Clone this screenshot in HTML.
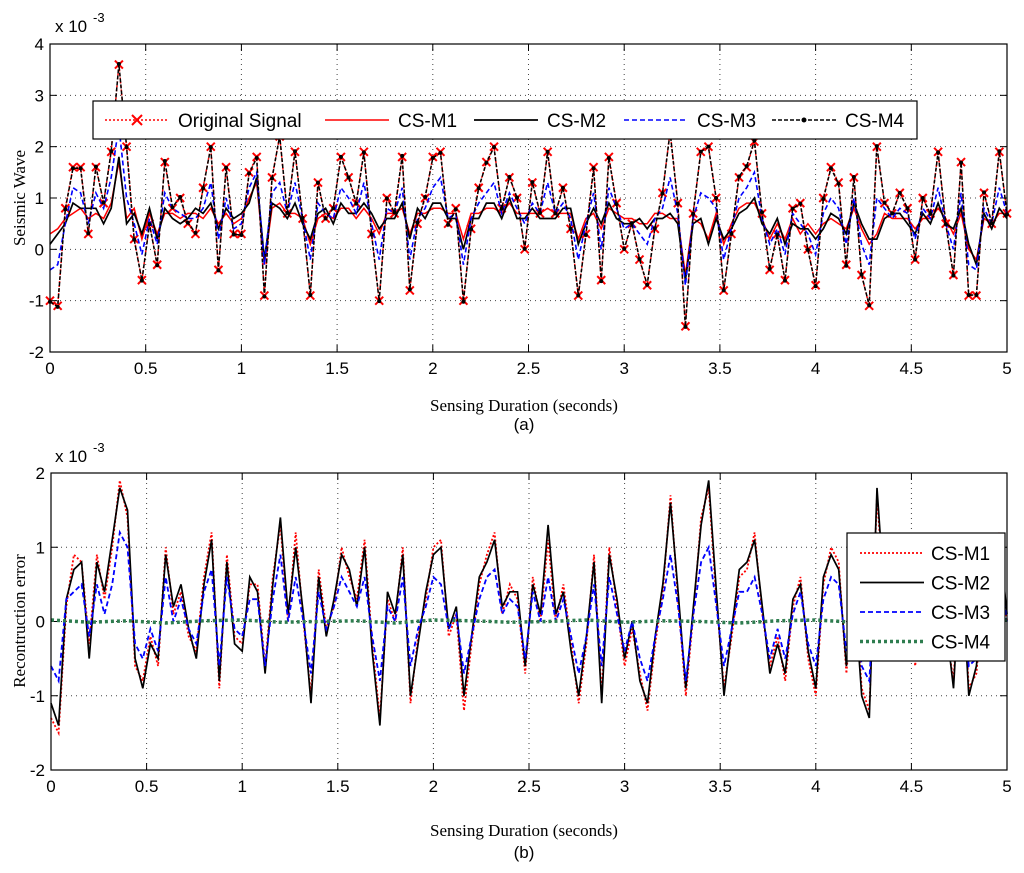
<!DOCTYPE html>
<html><head><meta charset="utf-8"><style>
html,body{margin:0;padding:0;background:#fff}
svg{display:block}
.tk{font-family:"Liberation Sans",sans-serif;font-size:17px;fill:#000}
.ttl{font-family:"Liberation Serif",serif;font-size:17px;fill:#000}
</style></head><body>
<svg id="fig" width="1024" height="873" viewBox="0 0 1024 873" xmlns="http://www.w3.org/2000/svg"></svg>
<script>
const xTicks=[0,0.5,1,1.5,2,2.5,3,3.5,4,4.5,5];
const xTickLabels=["0","0.5","1","1.5","2","2.5","3","3.5","4","4.5","5"];
const yTicksA=[-2,-1,0,1,2,3,4];
const yTicksB=[-2,-1,0,1,2];
const tStep=0.04;
const original=[-1.0,-1.1,0.8,1.6,1.6,0.3,1.6,0.9,1.9,3.6,2.0,0.2,-0.6,0.5,-0.3,1.7,0.8,1.0,0.5,0.3,1.2,2.0,-0.4,1.6,0.3,0.3,1.5,1.8,-0.9,1.4,2.2,0.7,1.9,0.6,-0.9,1.3,0.6,0.8,1.8,1.4,0.9,1.9,0.3,-1.0,1.0,0.7,1.8,-0.8,0.5,1.0,1.8,1.9,0.5,0.8,-1.0,0.4,1.2,1.7,2.0,0.8,1.4,1.0,0.0,1.3,0.7,1.9,0.7,1.2,0.4,-0.9,0.3,1.6,-0.6,1.8,0.9,0.0,0.5,-0.2,-0.7,0.4,1.1,2.3,0.9,-1.5,0.7,1.9,2.0,1.0,-0.8,0.3,1.4,1.6,2.1,0.7,-0.4,0.3,-0.6,0.8,0.9,0.0,-0.7,1.0,1.6,1.3,-0.3,1.4,-0.5,-1.1,2.0,0.9,0.7,1.1,0.8,-0.2,1.0,0.7,1.9,0.5,-0.5,1.7,-0.9,-0.9,1.1,0.5,1.9,0.7];
const errM1=[-1.3,-1.5,0.2,0.9,0.8,-0.3,0.9,0.3,1.0,1.9,1.4,-0.6,-0.8,-0.2,-0.6,1.0,0.1,0.4,-0.2,-0.4,0.6,1.2,-0.9,0.9,-0.2,-0.3,0.5,0.5,-0.6,0.6,1.3,0.0,1.2,0.0,-1.0,0.7,-0.1,0.2,1.0,0.6,0.3,1.1,-0.3,-1.3,0.3,0.0,1.0,-1.1,-0.2,0.3,1.0,1.1,-0.2,0.1,-1.2,-0.3,0.5,0.9,1.2,0.1,0.5,0.3,-0.7,0.6,0.0,1.1,0.0,0.5,-0.3,-1.1,-0.3,0.9,-1.0,1.0,0.2,-0.6,-0.1,-0.7,-1.2,-0.3,0.4,1.7,0.3,-1.0,0.1,1.4,1.8,0.3,-0.9,-0.2,0.6,0.7,1.2,0.1,-0.6,-0.2,-0.8,0.2,0.6,-0.5,-1.0,0.5,1.0,0.8,-0.7,0.6,-0.9,-1.2,1.7,0.2,0.1,0.5,0.2,-0.6,0.4,0.1,1.1,-0.1,-0.8,1.0,-0.9,-0.7,0.5,0.0,1.2,0.0];
const errM2=[-1.1,-1.4,0.3,0.7,0.8,-0.5,0.8,0.4,1.1,1.8,1.5,-0.5,-0.9,-0.3,-0.5,0.9,0.2,0.5,-0.1,-0.5,0.5,1.1,-0.8,0.8,-0.3,-0.4,0.6,0.4,-0.7,0.5,1.4,0.1,1.0,0.1,-1.1,0.6,-0.2,0.3,0.9,0.7,0.2,1.0,-0.4,-1.4,0.4,0.1,0.9,-1.0,-0.3,0.4,0.9,1.0,-0.1,0.2,-1.0,-0.2,0.6,0.8,1.1,0.2,0.4,0.4,-0.6,0.5,0.1,1.3,0.1,0.4,-0.4,-1.0,-0.2,0.8,-1.1,0.9,0.3,-0.5,0.0,-0.8,-1.1,-0.2,0.5,1.6,0.4,-0.9,0.2,1.3,1.9,0.4,-1.0,-0.1,0.7,0.8,1.1,0.2,-0.7,-0.3,-0.7,0.3,0.5,-0.4,-0.9,0.6,0.9,0.7,-0.6,0.5,-1.0,-1.3,1.8,0.3,0.0,0.4,0.3,-0.5,0.3,0.2,1.0,0.0,-0.9,0.9,-1.0,-0.6,0.4,0.1,1.1,0.1];
const errM3=[-0.6,-0.8,0.3,0.4,0.5,-0.2,0.5,0.1,0.5,1.2,1.0,-0.3,-0.5,-0.1,-0.4,0.6,0.0,0.3,-0.1,-0.3,0.4,0.7,-0.6,0.6,-0.1,-0.2,0.3,0.3,-0.6,0.3,0.9,0.0,0.6,0.0,-0.7,0.4,-0.1,0.2,0.6,0.4,0.2,0.6,-0.2,-0.8,0.2,0.0,0.6,-0.6,-0.1,0.2,0.6,0.5,-0.1,0.1,-0.7,-0.2,0.3,0.6,0.7,0.1,0.3,0.2,-0.5,0.4,0.0,0.6,0.0,0.3,-0.2,-0.7,-0.2,0.5,-0.6,0.6,0.1,-0.4,0.0,-0.5,-0.8,-0.2,0.3,0.9,0.2,-0.8,0.1,0.8,1.0,0.2,-0.6,-0.1,0.4,0.4,0.6,0.1,-0.5,-0.1,-0.5,0.1,0.4,-0.3,-0.6,0.3,0.6,0.5,-0.4,0.4,-0.6,-0.8,1.0,0.1,0.1,0.3,0.1,-0.4,0.2,0.1,0.7,0.0,-0.5,0.6,-0.6,-0.5,0.3,0.0,0.7,0.0];
const errM4=[0.02,-0.01,0.01,-0.02,0.01,0.02,-0.01,0.0,0.01,-0.02,0.02,0.01,-0.01,0.0,0.02,-0.01,0.01,0.0,-0.02,0.01,0.02,-0.01,0.0,0.01,-0.01,0.02];

const NS="http://www.w3.org/2000/svg";
const svg=document.getElementById('fig');
function mk(tag,attrs,parent){const e=document.createElementNS(NS,tag);for(const k in attrs)e.setAttribute(k,attrs[k]);(parent||svg).appendChild(e);return e;}

const A={x0:50,x1:1007,y0:44,y1:352,ymin:-2,ymax:4};
const B={x0:51,x1:1007,y0:473,y1:770,ymin:-2,ymax:2};
function sx(P,t){return P.x0+(t/5)*(P.x1-P.x0);}
function sy(P,v){return P.y1-(v-P.ymin)/(P.ymax-P.ymin)*(P.y1-P.y0);}

function axes(P,yTicks,name){
  const g=mk('g',{});
  
  
  mk('rect',{x:P.x0,y:P.y0,width:P.x1-P.x0,height:P.y1-P.y0,fill:'#fff'},g);
  xTicks.forEach((t,i)=>{const x=sx(P,t);
    if(i>0&&i<xTicks.length-1){mk('line',{x1:x,x2:x,y1:P.y0,y2:P.y1,stroke:'#444','stroke-width':1,'stroke-dasharray':'1 4'},g);}
    mk('line',{x1:x,x2:x,y1:P.y1,y2:P.y1-7,stroke:'#000'},g);
    mk('line',{x1:x,x2:x,y1:P.y0,y2:P.y0+7,stroke:'#000'},g);
    const tx=mk('text',{x:x,y:P.y1+22,'text-anchor':'middle',class:'tk'},g);tx.textContent=xTickLabels[i];
    
    
  });
  yTicks.forEach((v,i)=>{const y=sy(P,v);
    if(i>0&&i<yTicks.length-1){mk('line',{x1:P.x0,x2:P.x1,y1:y,y2:y,stroke:'#444','stroke-width':1,'stroke-dasharray':'1 4'},g);}
    mk('line',{x1:P.x0,x2:P.x0+7,y1:y,y2:y,stroke:'#000'},g);
    mk('line',{x1:P.x1,x2:P.x1-7,y1:y,y2:y,stroke:'#000'},g);
    const tx=mk('text',{x:P.x0-6,y:y+6,'text-anchor':'end',class:'tk'},g);tx.textContent=String(v);
    
    
  });
  return g;
}
function frame(P){mk('rect',{x:P.x0,y:P.y0,width:P.x1-P.x0,height:P.y1-P.y0,fill:'none',stroke:'#000','stroke-width':1.2});}
function pts(P,arr,step){return arr.map((v,i)=>sx(P,i*step).toFixed(1)+','+sy(P,v).toFixed(1)).join(' ');}
function line(P,arr,step,style,name){const e=mk('polyline',Object.assign({points:pts(P,arr,step),fill:'none'},style));
  
  return e;}

// ---- top plot ----
axes(A,yTicksA,'seismic');
const recM1=original.map((v,i)=>v-errM1[i]);
const recM2=original.map((v,i)=>v-errM2[i]);
const recM3=original.map((v,i)=>v-errM3[i]);
const recM4=original.map((v,i)=>v-(errM4[Math.floor(i/5)]||0));
line(A,original,tStep,{stroke:'#f00','stroke-width':1.5,'stroke-dasharray':'2 2'},'original-signal-line');
const mg=mk('g',{stroke:'#f00','stroke-width':2});


original.forEach((v,i)=>{const x=sx(A,i*tStep),y=sy(A,v);
  mk('path',{d:`M${x-4},${y-4}L${x+4},${y+4}M${x-4},${y+4}L${x+4},${y-4}`},mg);});
line(A,recM1,tStep,{stroke:'#f00','stroke-width':1.5},'cs-m1-line');
line(A,recM2,tStep,{stroke:'#000','stroke-width':1.7},'cs-m2-line');
line(A,recM3,tStep,{stroke:'#00f','stroke-width':1.6,'stroke-dasharray':'5 3'},'cs-m3-line');
line(A,recM4,tStep,{stroke:'#000','stroke-width':1.5,'stroke-dasharray':'4 2'},'cs-m4-line');
const dg=mk('g',{fill:'#000'});


recM4.forEach((v,i)=>{mk('circle',{cx:sx(A,i*tStep),cy:sy(A,v),r:2},dg);});
frame(A);

// top legend
const lg=mk('g',{});


mk('rect',{x:93,y:101,width:824,height:38,fill:'#fff',stroke:'#000','stroke-width':1.2},lg);
const items=[
 {x:105,label:'Original Signal',st:{stroke:'#f00','stroke-width':1.5,'stroke-dasharray':'2 2'},mark:'x'},
 {x:325,label:'CS-M1',st:{stroke:'#f00','stroke-width':1.5}},
 {x:474,label:'CS-M2',st:{stroke:'#000','stroke-width':1.7}},
 {x:624,label:'CS-M3',st:{stroke:'#00f','stroke-width':1.6,'stroke-dasharray':'5 3'}},
 {x:772,label:'CS-M4',st:{stroke:'#000','stroke-width':1.5,'stroke-dasharray':'4 2'},mark:'dot'}];
items.forEach(it=>{const y=120;
  mk('line',Object.assign({x1:it.x,x2:it.x+64,y1:y,y2:y},it.st),lg);
  const c=it.x+32;
  if(it.mark==='x')mk('path',{d:`M${c-5},${y-5}L${c+5},${y+5}M${c-5},${y+5}L${c+5},${y-5}`,stroke:'#f00','stroke-width':2},lg);
  if(it.mark==='dot')mk('circle',{cx:c,cy:y,r:2.5,fill:'#000'},lg);
  const t=mk('text',{x:it.x+73,y:y+7,class:'tk',style:'font-size:19px'},lg);t.textContent=it.label;
  
  
});

// ---- bottom plot ----
axes(B,yTicksB,'error');
line(B,errM1,tStep,{stroke:'#f00','stroke-width':1.8,'stroke-dasharray':'2 2'},'error-cs-m1-line');
line(B,errM2,tStep,{stroke:'#000','stroke-width':1.7},'error-cs-m2-line');
line(B,errM3,tStep,{stroke:'#00f','stroke-width':1.8,'stroke-dasharray':'5 3'},'error-cs-m3-line');
line(B,errM4,0.2,{stroke:'#2e7d4f','stroke-width':3.5,'stroke-dasharray':'3 3'},'error-cs-m4-line');
frame(B);

const lb=mk('g',{});


mk('rect',{x:847,y:533,width:158,height:128,fill:'#fff',stroke:'#000','stroke-width':1.2},lb);
const items2=[
 {label:'CS-M1',st:{stroke:'#f00','stroke-width':1.8,'stroke-dasharray':'2 2'}},
 {label:'CS-M2',st:{stroke:'#000','stroke-width':1.7}},
 {label:'CS-M3',st:{stroke:'#00f','stroke-width':1.8,'stroke-dasharray':'5 3'}},
 {label:'CS-M4',st:{stroke:'#2e7d4f','stroke-width':3.5,'stroke-dasharray':'3 3'}}];
items2.forEach((it,i)=>{const y=553+i*29.5;
  mk('line',Object.assign({x1:860,x2:924,y1:y,y2:y},it.st),lb);
  const t=mk('text',{x:931,y:y+7,class:'tk',style:'font-size:19px'},lb);t.textContent=it.label;
  
  
});

// titles
function txt(x,y,s,cls,extra,name){const t=mk('text',Object.assign({x:x,y:y,class:cls},extra||{}));t.textContent=s;
  
  return t;}
txt(55,32,'x 10','tk',{},'top-exponent-label');
txt(93,22,'-3','tk',{style:'font-size:13px'},'top-exponent-power');
txt(55,462,'x 10','tk',{},'bottom-exponent-label');
txt(93,452,'-3','tk',{style:'font-size:13px'},'bottom-exponent-power');
txt(25,198,'Seismic Wave','ttl',{'text-anchor':'middle',transform:'rotate(-90 25 198)'},'y-axis-title-top');
txt(25,621,'Recontruction error','ttl',{'text-anchor':'middle',transform:'rotate(-90 25 621)'},'y-axis-title-bottom');
txt(524,411,'Sensing Duration (seconds)','ttl',{'text-anchor':'middle'},'x-axis-title-top');
txt(524,430,'(a)','tk',{'text-anchor':'middle'},'subplot-label-a');
txt(524,836,'Sensing Duration (seconds)','ttl',{'text-anchor':'middle'},'x-axis-title-bottom');
txt(524,858,'(b)','tk',{'text-anchor':'middle'},'subplot-label-b');
</script>
</body></html>
